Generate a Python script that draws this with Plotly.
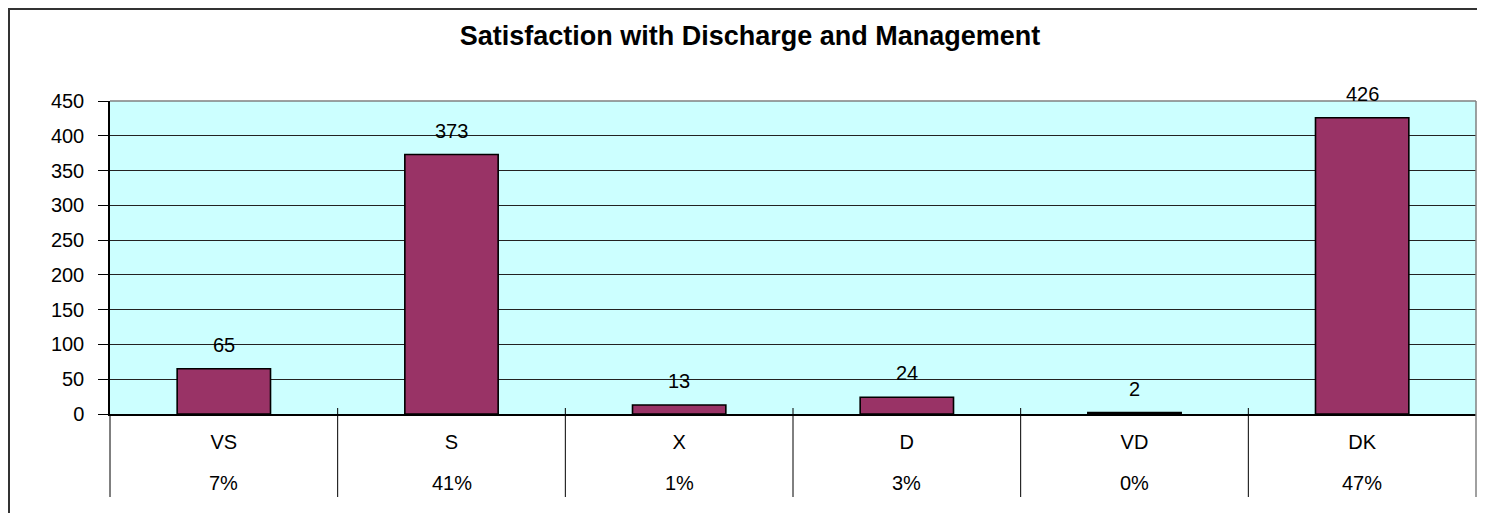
import plotly.graph_objects as go

categories = ["VS", "S", "X", "D", "VD", "DK"]
counts = [65, 373, 13, 24, 2, 426]
percent_labels = ["7%", "41%", "1%", "3%", "0%", "47%"]
y_ticks = [0, 50, 100, 150, 200, 250, 300, 350, 400, 450]
title_text = "Satisfaction with Discharge and Management"

# page has an 8px body margin, so the figure is 8px smaller than the window
W, H = 1477, 505
L, R, T, B = 102, 9, 93, 99
PW, PH = W - L - R, H - T - B

def px_x(px):
    return (px - L) / PW

def px_y(py):
    return (H - B - py) / PH

FONT = "Liberation Sans, Arial, sans-serif"
fs = 20

fig = go.Figure()
fig.add_trace(go.Bar(
    x=categories, y=counts,
    marker=dict(color="#993366", line=dict(color="black", width=1.6)),
    width=0.41, hoverinfo="x+y", showlegend=False,
))

annotations = []
for c, v in zip(categories, counts):
    annotations.append(dict(x=c, y=v, xref="x", yref="y", text=str(v),
                            showarrow=False, yanchor="middle", yshift=24,
                            font=dict(family=FONT, size=fs, color="black")))
for c, p in zip(categories, percent_labels):
    annotations.append(dict(x=c, y=px_y(475), xref="x", yref="paper", text=p,
                            showarrow=False, yanchor="middle",
                            font=dict(family=FONT, size=fs, color="black")))

shapes = []
# outer chart border
shapes.append(dict(type="rect", xref="paper", yref="paper",
                   x0=px_x(1), x1=px_x(1520), y0=px_y(1), y1=px_y(540),
                   line=dict(color="#333333", width=2), fillcolor="rgba(0,0,0,0)", layer="below"))
# top and right plot border (gray)
shapes.append(dict(type="line", xref="paper", yref="paper", x0=0, x1=1, y0=1, y1=1,
                   line=dict(color="#808080", width=1.5)))
shapes.append(dict(type="line", xref="paper", yref="paper", x0=1, x1=1, y0=1, y1=px_y(489),
                   line=dict(color="#808080", width=1.5)))
# left axis extension into category table
shapes.append(dict(type="line", xref="paper", yref="paper", x0=0, x1=0, y0=0, y1=px_y(489),
                   line=dict(color="black", width=1)))
# category separators
n = len(categories)
for i in range(n - 1):
    shapes.append(dict(type="line", xref="x", yref="paper", x0=i + 0.5, x1=i + 0.5,
                       y0=px_y(400), y1=px_y(489), line=dict(color="black", width=1)))

fig.update_layout(
    width=W, height=H,
    margin=dict(l=L, r=R, t=T, b=B),
    paper_bgcolor="white",
    plot_bgcolor="#CCFFFF",
    font=dict(family=FONT, size=fs, color="black"),
    title=dict(text="<b>" + title_text + "</b>", x=px_x(742), xref="paper", xanchor="center",
               y=1 - 28 / H, yref="container", yanchor="middle",
               font=dict(family=FONT, size=27, color="black")),
    xaxis=dict(range=[-0.5, n - 0.5], showgrid=False, showline=True, linecolor="black",
               linewidth=1.5, ticks="", tickfont=dict(family=FONT, size=fs, color="black"),
               ticklabelstandoff=9, zeroline=False, fixedrange=True),
    yaxis=dict(range=[0, 450], tickvals=y_ticks, showgrid=True, gridcolor="#222222",
               gridwidth=1, showline=True, linecolor="black", linewidth=1.5,
               ticks="outside", ticklen=10, tickcolor="black", tickwidth=1,
               ticklabelstandoff=10, tickfont=dict(family=FONT, size=fs, color="black"),
               zeroline=False, fixedrange=True),
    annotations=annotations,
    shapes=shapes,
    bargap=0.59,
)

fig.write_html("out.html")
